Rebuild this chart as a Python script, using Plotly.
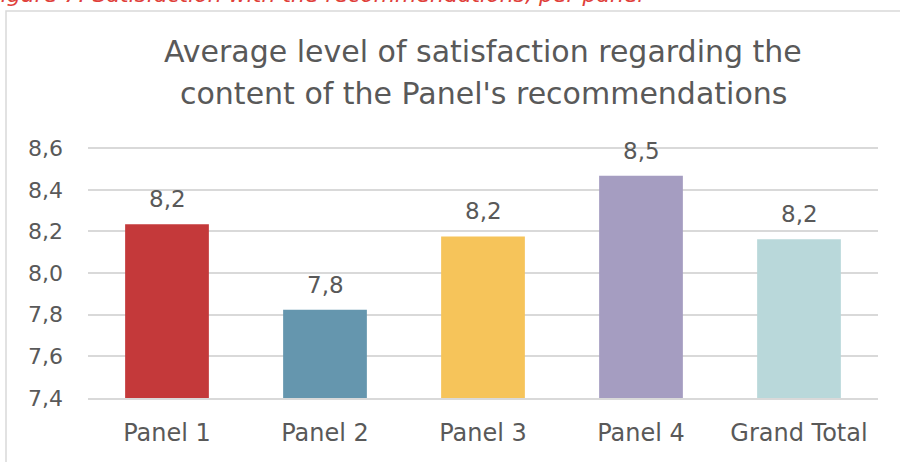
import plotly.graph_objects as go

# Average satisfaction scores per panel
categories = ["Panel 1", "Panel 2", "Panel 3", "Panel 4", "Grand Total"]
scores = [8.234, 7.824, 8.176, 8.467, 8.162]
bar_colors = ["#C4393A", "#6596AE", "#F6C45A", "#A59DC1", "#B9D8DA"]
y_ticks = [7.4, 7.6, 7.8, 8.0, 8.2, 8.4, 8.6]

title_lines = [
    "Average level of satisfaction regarding the",
    "content of the Panel's recommendations",
]
caption = "Figure 7: Satisfaction with the recommendations, per panel"

FONT = "DejaVu Sans"
TEXT = "#595959"
GRID = "#D9D9D9"

W, H = 900, 462
Y_MIN, Y_MAX = 7.4, 8.62
L, R, T, B = 88, 22, 144, 64
PH = H - T - B
PW = W - L - R


def py(pixel_y):
    """Convert a pixel row (from top) to paper y."""
    return 1 + (T - pixel_y) / PH


def px(pixel_x):
    return (pixel_x - L) / PW


fig = go.Figure(
    go.Bar(
        x=categories,
        y=scores,
        marker=dict(color=bar_colors, line=dict(width=0)),
        hoverinfo="skip",
    )
)

# value labels above each bar
for cat, val in zip(categories, scores):
    fig.add_annotation(
        x=cat, y=val, xref="x", yref="y",
        text=f"{val:.1f}".replace(".", ","),
        showarrow=False, yanchor="bottom", yshift=10,
        font=dict(family=FONT, size=23, color=TEXT),
    )

# two-line chart title
for i, line in enumerate(title_lines):
    fig.add_annotation(
        x=0.5, xref="paper", y=py(51 + 43 * i), yref="paper",
        text=line, showarrow=False, xanchor="center", yanchor="middle",
        font=dict(family=FONT, size=30, color=TEXT),
    )

# figure caption, partly outside the top edge
fig.add_annotation(
    x=px(-14), xref="paper", y=py(9), yref="paper",
    text=f"<i>{caption}</i>", showarrow=False, xanchor="left", yanchor="bottom",
    font=dict(family=FONT, size=22, color="#E0403A"),
)

# chart frame
fig.add_shape(
    type="rect", xref="paper", yref="paper",
    x0=px(6), x1=px(W + 20), y0=py(H + 20), y1=py(11),
    line=dict(color=GRID, width=1.5), fillcolor="rgba(0,0,0,0)", layer="below",
)

fig.update_layout(
    width=W, height=H,
    margin=dict(l=L, r=R, t=T, b=B, pad=0),
    paper_bgcolor="white", plot_bgcolor="white",
    bargap=0.47,
    showlegend=False,
    separators=",.",
    xaxis=dict(
        showgrid=False, showline=True, linecolor=GRID, linewidth=1.5,
        ticks="", tickfont=dict(family=FONT, size=24, color=TEXT),
        ticklabelstandoff=12,
    ),
    yaxis=dict(
        range=[Y_MIN, Y_MAX], tickvals=y_ticks,
        ticktext=[f"{v:.1f}".replace(".", ",") for v in y_ticks],
        showgrid=True, gridcolor=GRID, gridwidth=1.5,
        zeroline=False, showline=False, ticks="",
        tickfont=dict(family=FONT, size=22, color=TEXT),
        ticklabelstandoff=24,
    ),
)

fig.write_html("out.html")
